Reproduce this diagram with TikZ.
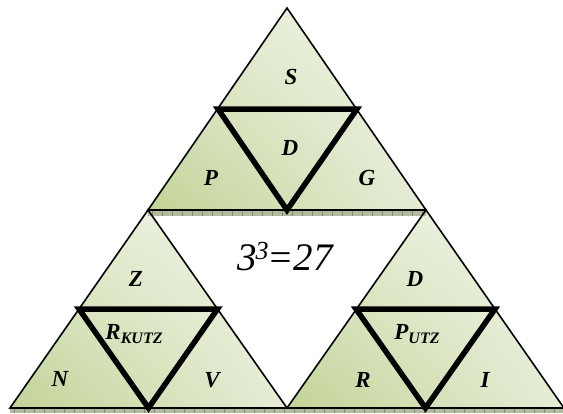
\documentclass[tikz,border=0pt]{standalone}
\usepackage{fontspec}
\setmainfont{Liberation Serif}
\usetikzlibrary{shadings}
\definecolor{gDark}{RGB}{194,211,150}
\definecolor{gLight}{RGB}{241,246,234}
\definecolor{gMidA}{RGB}{225,234,206}
\definecolor{gMidB}{RGB}{229,237,214}
\definecolor{stripFill}{RGB}{178,186,160}
\definecolor{stripTick}{RGB}{130,140,112}
\begin{document}
\begin{tikzpicture}[x=1pt,y=-1pt,
  thintri/.style={draw=black, line width=1.6pt, line join=miter},
  thicktri/.style={draw=black, line width=5.5pt, line join=miter},
  greenshade/.style={lower left=gDark, upper right=gLight, upper left=gMidA, lower right=gMidB},
  lbl/.style={font=\fontsize{23}{23}\selectfont\bfseries\itshape, inner sep=0pt},
  stripbox/.style={fill=stripFill},
  striptick/.style={draw=stripTick, line width=0.6pt}]
\useasboundingbox (0,0) rectangle (563,413);
% corner coordinates
\coordinate (A) at (287,8);
\coordinate (ML) at (148,210);
\coordinate (MR) at (426,210);
\coordinate (BL) at (10,408);
\coordinate (BM) at (287,408);
\coordinate (BR) at (564,408);
% shaded sub-triangles
\shade[greenshade] (A) -- (MR) -- (ML) -- cycle;
\shade[greenshade] (ML) -- (BM) -- (BL) -- cycle;
\shade[greenshade] (MR) -- (BR) -- (BM) -- cycle;
% strips (shadows) under the bases
\fill[stripbox] (148,211) rectangle (426,216);
\foreach \x in {152,162,...,422} \draw[striptick] (\x,211) -- (\x,216);
\fill[stripbox] (10,409) rectangle (563,413);
\foreach \x in {14,24,...,560} \draw[striptick] (\x,409) -- (\x,413);
% outlines
\draw[thintri] (A) -- (MR) -- (ML) -- cycle;
\draw[thintri] (ML) -- (BM) -- (BL) -- cycle;
\draw[thintri] (MR) -- (BR) -- (BM) -- cycle;
% inner inverted triangles
\draw[thicktri] (218,109) -- (357,109) -- (287,210) -- cycle;
\draw[thicktri] (79,309) -- (217.5,309) -- (148.5,408) -- cycle;
\draw[thicktri] (356,309) -- (495,309) -- (425.5,408) -- cycle;
% labels
\node[lbl] (s) at (291,77) {S};
\node[lbl] (d1) at (290,148) {D};
\node[lbl] (p) at (211,178) {P};
\node[lbl] (g) at (367,178) {G};
\node[lbl] (z) at (136,279) {Z};
\node[lbl] (d2) at (415,279) {D};
\node[lbl] (n) at (60,379) {N};
\node[lbl] (v) at (212,380) {V};
\node[lbl] (r) at (363,380) {R};
\node[lbl] (i) at (485,380) {I};
\node[lbl, anchor=base] (rk) at (134,339) {R\raisebox{-4pt}{\fontsize{16}{16}\selectfont KUTZ}};
\node[lbl, anchor=base] (pu) at (417,339) {P\raisebox{-4pt}{\fontsize{16}{16}\selectfont UTZ}};
\node[font=\fontsize{39}{39}\selectfont\itshape, inner sep=0pt] (eq) at (285,257) {3\kern-1pt\raisebox{11pt}{\fontsize{26}{26}\selectfont 3}\kern-1pt=27};
\end{tikzpicture}
\end{document}
